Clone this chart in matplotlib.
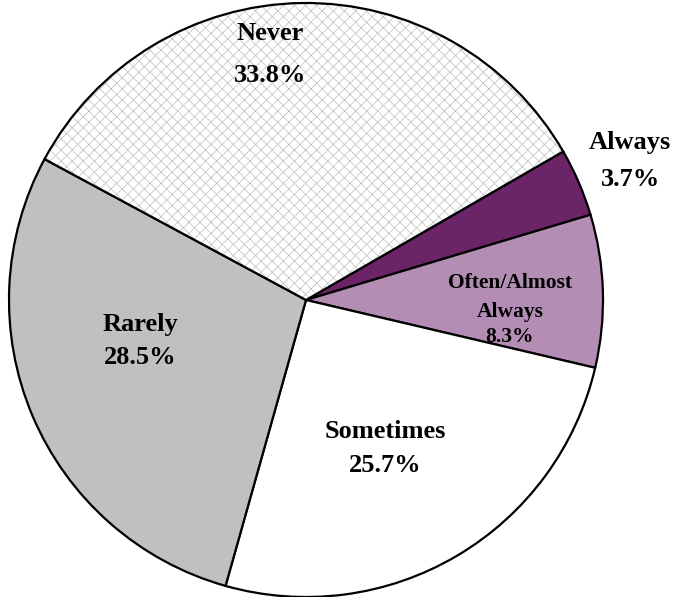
import matplotlib.pyplot as plt
from matplotlib.patches import Wedge

labels = ['Always', 'Often/Almost\nAlways', 'Sometimes', 'Rarely', 'Never']
values = [3.7, 8.3, 25.7, 28.5, 33.8]
colors = ['#6b2467', '#b48db4', '#ffffff', '#c0c0c0', '#ffffff']

plt.rcParams['hatch.linewidth'] = 0.5

fig = plt.figure(figsize=(6.77, 5.97), dpi=100)
ax = fig.add_axes([0, 0, 1, 1])

cx, cy, r = 306, 297, 297
wedges, _ = ax.pie(values, colors=colors, startangle=30, counterclock=False,
                   center=(cx, cy), radius=r,
                   wedgeprops=dict(edgecolor='black', linewidth=1.6))

# Never slice: light grey crosshatch, then a black outline on top
nv = wedges[4]
nv.set_hatch('xxx')
nv.set_edgecolor('#bdbdbd')
nv.set_linewidth(0)
ax.add_patch(Wedge(nv.center, nv.r, nv.theta1, nv.theta2, fill=False,
                   edgecolor='black', linewidth=1.6))

# label line positions in pixels (y from the top): x, y of name line, y of value line
label_x = [630, 510, 385, 140, 270]
name_y = [[143], [283, 312], [432], [325], [33]]
value_y = [180, 337, 466, 358, 75]
label_size = [19, 15.5, 19, 19, 19]

for lab, v, x, ny, vy, fs in zip(labels, values, label_x, name_y, value_y, label_size):
    for line, y in zip(lab.split('\n'), ny):
        ax.text(x, 597 - y, line, ha='center', va='center', fontsize=fs,
                fontweight='bold', family='Liberation Serif')
    ax.text(x, 597 - vy, f'{v:.1f}%', ha='center', va='center', fontsize=fs,
            fontweight='bold', family='Liberation Serif')

ax.set_xlim(0, 677)
ax.set_ylim(0, 597)
ax.set_aspect('equal')
ax.axis('off')

fig.savefig('out.png', dpi=100)
